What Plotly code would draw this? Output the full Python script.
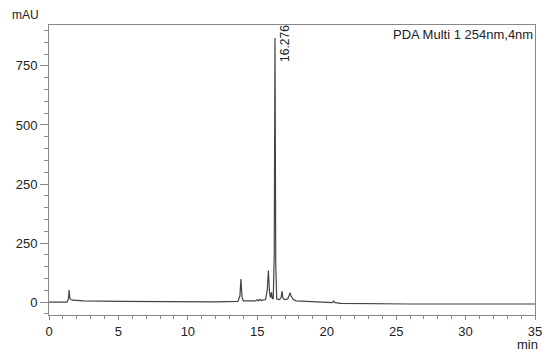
import plotly.graph_objects as go

# retention time (min) and detector signal (mAU)
time = [0, 1.3, 1.4, 1.45, 1.5, 1.58, 1.7, 2.5, 5, 8, 10, 12, 13.6, 13.75, 13.82,
        13.9, 14.0, 14.5, 14.9, 15.0, 15.1, 15.2, 15.3, 15.4, 15.6, 15.72, 15.8,
        15.88, 15.95, 16.02, 16.08, 16.15, 16.22, 16.276, 16.33, 16.4, 16.6, 16.72,
        16.78, 16.85, 16.95, 17.2, 17.3, 17.36, 17.42, 17.5, 17.6, 17.8, 18.5, 19.5,
        20.4, 20.5, 20.6, 21, 23, 26, 30, 35]
signal = [0, 0, 10, 38, 12, 8, 6, 4, 2, 1, 1, 1, 2, 20, 73,
          15, 4, 3, 4, 8, 4, 9, 5, 6, 8, 40, 100,
          30, 14, 32, 12, 10, 150, 839, 120, 10, 8, 15,
          35, 12, 8, 10, 22, 30, 20, 14, 8, 4, 2, -1,
          -2, 3, -2, -4, -5, -6, -6, -6]

# y tick positions and the labels printed on the original (250 appears twice)
ytick_vals = [0, 187.5, 375, 562.5, 750]
ytick_text = ["0", "250", "<span>250</span>", "500", "750"]
peak_label = "16.276"

fig = go.Figure()
fig.add_trace(go.Scatter(x=time, y=signal, mode="lines",
                         line=dict(color="#444", width=1.2), hoverinfo="skip"))

# page body has an 8px margin, so the figure is sized 8px smaller
axis_font = dict(family="Liberation Sans, Arial", size=13, color="#222")
fig.update_xaxes(range=[0, 35], tickvals=[0, 5, 10, 15, 20, 25, 30, 35],
                 ticks="outside", ticklen=4, tickcolor="#888", automargin=False,
                 minor=dict(dtick=1, ticks="outside", ticklen=3, tickcolor="#888"),
                 showgrid=False, zeroline=False, showline=True, linecolor="#888",
                 mirror=True, tickfont=axis_font)
fig.update_yaxes(range=[-41, 880], tickvals=ytick_vals, ticktext=ytick_text,
                 ticks="outside", ticklen=8, tickcolor="#888", automargin=False,
                 minor=dict(dtick=37.5, tick0=0, ticks="outside", ticklen=4,
                            tickcolor="#888", showgrid=False),
                 showgrid=False, zeroline=False, showline=True, linecolor="#888",
                 mirror=True, tickfont=axis_font)

fig.add_annotation(x=16.276, y=820, text=peak_label, textangle=-90, showarrow=False,
                   xshift=10, font=dict(family="Liberation Sans, Arial", size=12, color="#222"))
fig.add_annotation(x=1, y=1, xref="paper", yref="paper", xanchor="right", yanchor="top",
                   text="PDA Multi 1 254nm,4nm", showarrow=False,
                   font=dict(family="Liberation Sans, Arial", size=13, color="#222"))
fig.add_annotation(x=-0.08, y=1.036, xref="paper", yref="paper", xanchor="left",
                   yanchor="middle", text="mAU", showarrow=False,
                   font=dict(family="Liberation Sans, Arial", size=12, color="#222"))
fig.add_annotation(x=0.985, y=-0.1, xref="paper", yref="paper", xanchor="center",
                   yanchor="middle", text="min", showarrow=False,
                   font=dict(family="Liberation Sans, Arial", size=13, color="#222"))

fig.update_layout(width=542, height=344, margin=dict(l=41, r=15, t=17, b=37),
                  plot_bgcolor="white", paper_bgcolor="white", showlegend=False)

fig.write_html("out.html")
